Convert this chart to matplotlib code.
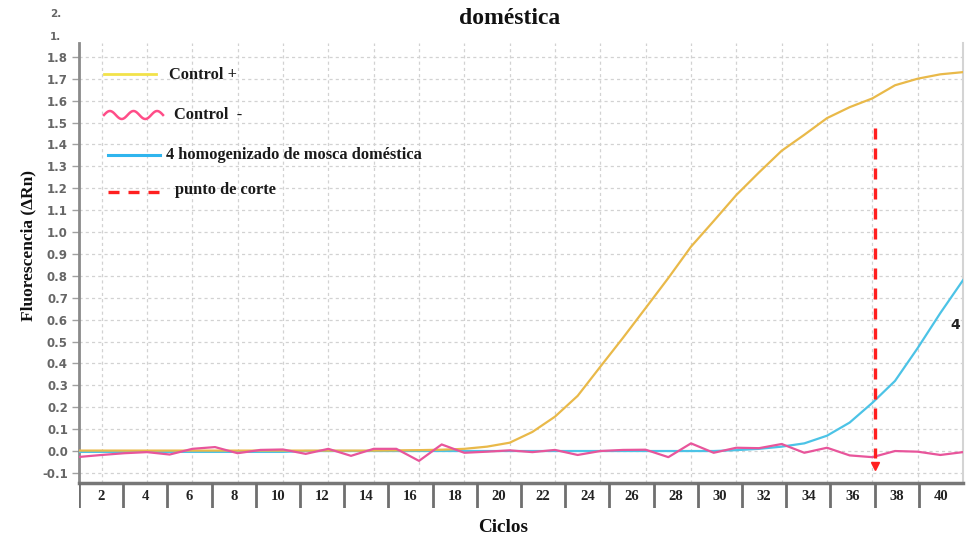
import matplotlib
matplotlib.use("Agg")
import matplotlib.pyplot as plt
from matplotlib.lines import Line2D
import numpy as np

# --- data -------------------------------------------------------------
cycles = list(range(1, 41))

control_pos = [0.002, 0.002, 0.002, 0.002, 0.002, 0.002, 0.002, 0.002, 0.002, 0.002,
               0.002, 0.002, 0.002, 0.002, 0.003, 0.004, 0.006, 0.010, 0.020, 0.038,
               0.087, 0.157, 0.252, 0.385, 0.517, 0.653, 0.790, 0.933, 1.050, 1.169,
               1.272, 1.371, 1.444, 1.520, 1.570, 1.610, 1.670, 1.700, 1.720, 1.730]

control_neg = [-0.027, -0.018, -0.010, -0.005, -0.016, 0.010, 0.018, -0.010, 0.005, 0.007,
               -0.013, 0.010, -0.022, 0.010, 0.010, -0.045, 0.030, -0.008, -0.003, 0.003,
               -0.005, 0.005, -0.018, 0.000, 0.005, 0.006, -0.028, 0.035, -0.008, 0.015,
               0.013, 0.032, -0.008, 0.015, -0.020, -0.028, 0.000, -0.003, -0.018, -0.005]

sample_4 = [-0.004, -0.004, -0.004, -0.004, -0.004, -0.004, -0.004, -0.004, -0.004, -0.004,
            0.000, 0.000, 0.000, 0.000, 0.000, 0.000, 0.000, 0.000, 0.000, 0.000,
            0.000, 0.000, 0.000, 0.000, 0.000, 0.000, 0.000, 0.000, 0.000, 0.004,
            0.010, 0.020, 0.035, 0.070, 0.130, 0.220, 0.320, 0.470, 0.630, 0.780]

cut_cycle = 36.1
cut_top = 1.475
cut_bottom = -0.07

sample_label_pos = (39.65, 0.575)

y_ticks = [-0.1, 0.0, 0.1, 0.2, 0.3, 0.4, 0.5, 0.6, 0.7, 0.8, 0.9,
           1.0, 1.1, 1.2, 1.3, 1.4, 1.5, 1.6, 1.7, 1.8]
x_grid = [2, 4, 6, 8, 10, 12, 14, 16, 18, 20, 22, 24, 26, 28, 30, 32, 34, 36, 38]
x_labels = ["2", "4", "6", "8", "10", "12", "14", "16", "18", "20",
            "22", "24", "26", "28", "30", "32", "34", "36", "38", "40"]

# --- styling ----------------------------------------------------------
W, H = 975, 540
SERIF = "Liberation Serif"
GOLD = "#E9B949"
PINK = "#E8559B"
BLUE = "#4CC3E6"
RED = "#FF1F1F"


def fx(x):
    return x / W


def fy(y):
    return 1 - y / H


fig = plt.figure(figsize=(W / 100, H / 100), dpi=100)
fig.patch.set_facecolor("white")

ax = fig.add_axes([fx(79), fy(483), fx(963) - fx(79), fy(43) - fy(483)])
ax.set_xlim(1, 40)
ax.set_ylim(-0.146, 1.863)

ax.set_xticks(x_grid)
ax.tick_params(axis="x", length=0, labelbottom=False)
ax.set_yticks(y_ticks)
ax.set_yticklabels([f"{v:.1f}" for v in y_ticks])
ax.tick_params(axis="y", length=5, width=1, color="#a0a0a0", pad=3,
               labelsize=8.5, labelcolor="#666666")
for lab in ax.get_yticklabels():
    lab.set_fontweight("bold")
ax.grid(True, color="#d2d2d2", linestyle=(0, (2.5, 2.5)), linewidth=0.9)
ax.set_axisbelow(True)

ax.spines["top"].set_visible(False)
ax.spines["left"].set_color("#8a8a8a")
ax.spines["left"].set_linewidth(2)
ax.spines["bottom"].set_color("#777777")
ax.spines["bottom"].set_linewidth(2.5)
ax.spines["right"].set_color("#d4d4d4")
ax.spines["right"].set_linewidth(1.5)

# curves
ax.plot(cycles, sample_4, color=BLUE, lw=1.6, zorder=3)
ax.plot(cycles, control_pos, color=GOLD, lw=1.6, zorder=3)
ax.plot(cycles, control_neg, color=PINK, lw=1.6, zorder=4)

# threshold / cut-off marker
cut_line, = ax.plot([cut_cycle, cut_cycle], [cut_top, cut_bottom + 0.04],
                    color=RED, lw=2.4, zorder=5)
cut_line.set_dashes((3.3, 2.7))
ax.plot([cut_cycle], [cut_bottom], marker="v", color=RED, markersize=6, zorder=5,
        linestyle="none")

ax.text(*sample_label_pos, "4", fontsize=10, fontweight="bold", color="#222222",
        ha="center", va="center")

# y-axis title placed in figure coordinates
fig.text(fx(28), fy(246), "Fluorescencia (ΔRn)", family=SERIF, fontsize=12.5,
         fontweight="bold", color="#111111", rotation=90, ha="center", va="center")

# --- cycle label strip under the plot ---------------------------------
strip = fig.add_axes([fx(79), fy(508), fx(963) - fx(79), fy(483) - fy(508)])
strip.set_xlim(0, len(x_labels))
strip.set_ylim(0, 1)
strip.axis("off")
strip.vlines(np.arange(len(x_labels)), 0, 1, color="#6f6f6f", lw=2)
for i, lab in enumerate(x_labels):
    strip.text(i + 0.5, 0.45, lab, family=SERIF, fontsize=10.5, fontweight="bold",
               ha="center", va="center", color="#222222")

fig.text(fx(503), fy(528), "Ciclos", family=SERIF, fontsize=13.8, fontweight="bold",
         ha="center", va="center", color="#111111")

# title (second line)
fig.text(fx(510), fy(19), "doméstica", family=SERIF, fontsize=17, fontweight="bold",
         ha="center", va="center", color="#111111")

# leftover axis numbers above the frame
fig.text(fx(50), fy(14), "2.", fontsize=7.5, fontweight="bold", color="#666666",
         ha="left", va="center")
fig.text(fx(50), fy(37), "1.", fontsize=7.5, fontweight="bold", color="#666666",
         ha="left", va="center")

# --- legend -----------------------------------------------------------
def legend_text(x, y, s):
    fig.text(fx(x), fy(y), s, family=SERIF, fontsize=11.8, fontweight="bold",
             ha="left", va="center", color="#1a1a1a")


fig.add_artist(Line2D([fx(104), fx(156)], [fy(74), fy(74)], color="#F2E24A", lw=2))
legend_text(169, 75, "Control +")

wx = np.linspace(104, 163, 80)
wy = 115 + 4 * np.sin((wx - 104) / (163 - 104) * 2.5 * 2 * np.pi + np.pi)
fig.add_artist(Line2D(fx(wx), fy(wy), color="#FF4D88", lw=1.8))
legend_text(174, 115, "Control  -")

fig.add_artist(Line2D([fx(108), fx(160)], [fy(155), fy(155)], color="#2FB5EE", lw=2.2))
legend_text(166, 155, "4 homogenizado de mosca doméstica")

leg_cut = Line2D([fx(108), fx(160)], [fy(192), fy(192)], color=RED, lw=2.4)
leg_cut.set_dashes((3.3, 2.7))
fig.add_artist(leg_cut)
legend_text(175, 190, "punto de corte")

fig.savefig("out.png", dpi=100, facecolor="white")
